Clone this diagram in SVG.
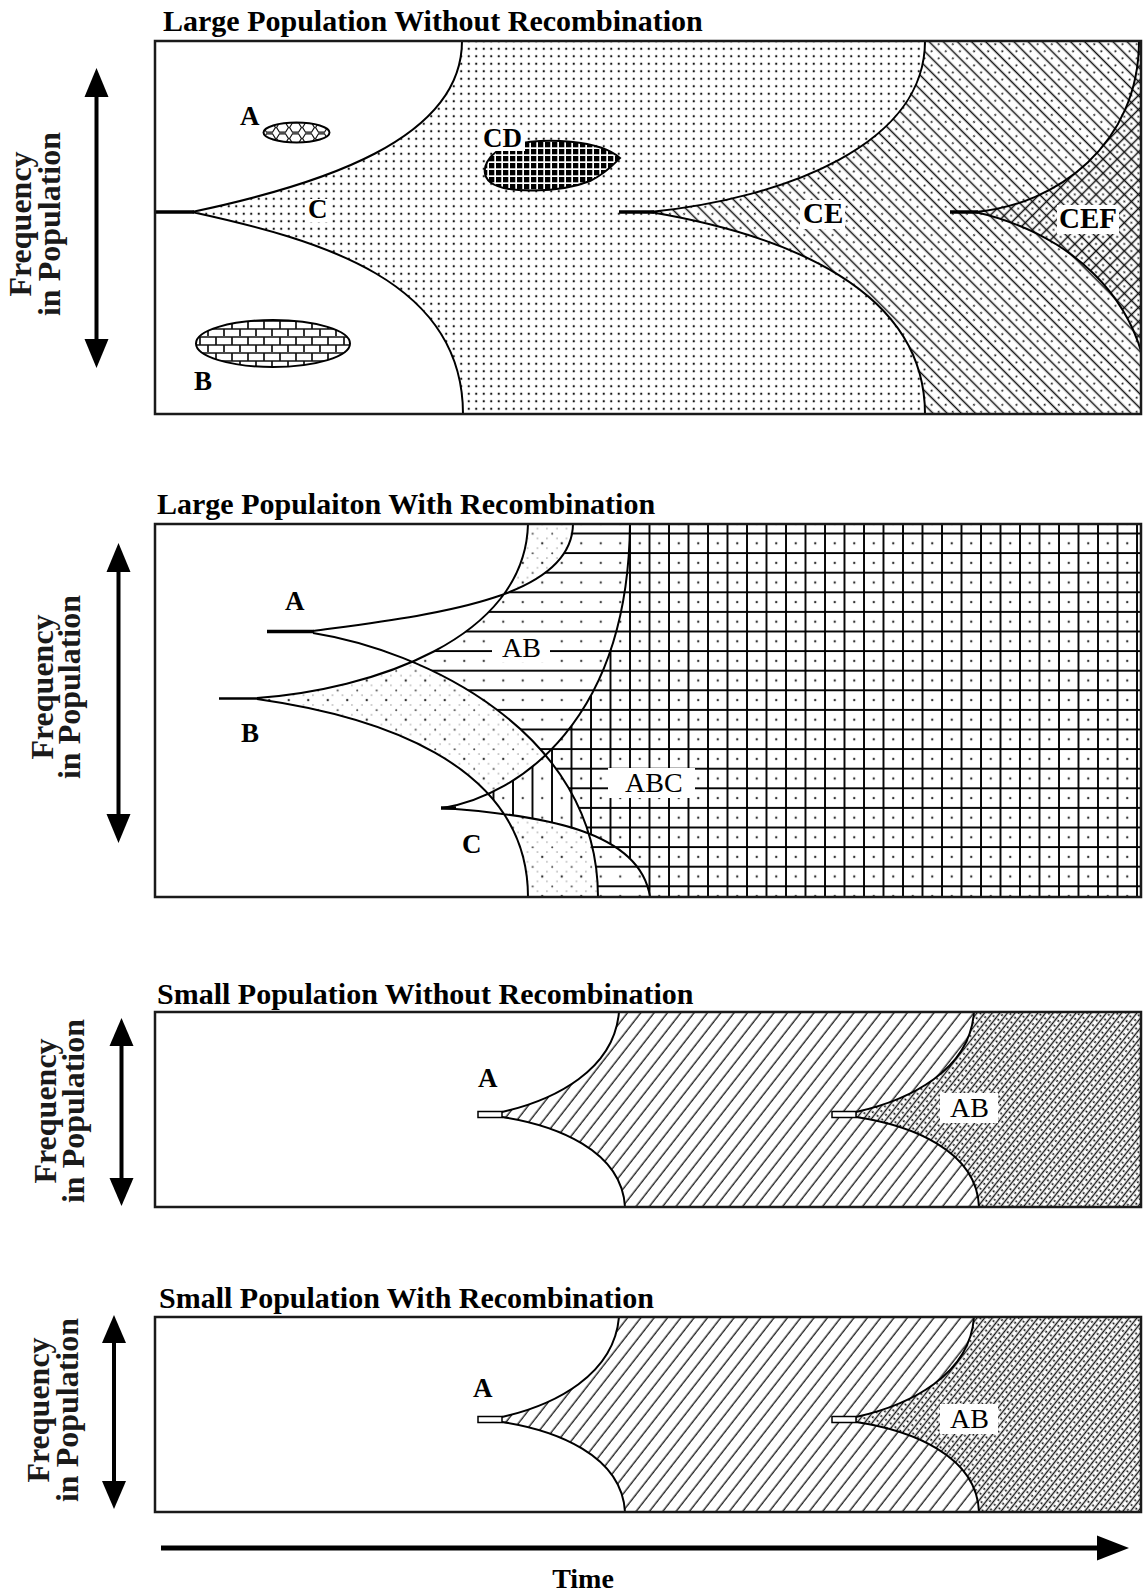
<svg xmlns="http://www.w3.org/2000/svg" width="1143" height="1595" viewBox="0 0 1143 1595">
<style>
text{font-family:"Liberation Serif","Times New Roman",serif;fill:#000}
.title{font-size:30px;font-weight:bold}
.ylab{font-size:32px;font-weight:bold;text-anchor:middle;fill:#1a1a1a}
.lb{font-size:27px;font-weight:bold}
.lb2{font-size:29px;font-weight:bold}
.lr{font-size:28px}
.box{fill:none;stroke:#1a1a1a;stroke-width:2.5}
.crv{fill:none;stroke:#000;stroke-width:2}
.stub{fill:none;stroke:#000;stroke-width:3.5}
.hstub{fill:#fff;stroke:#000;stroke-width:1.5}
.bg{fill:#fff}
.shaft{stroke:#000;stroke-width:4;fill:none}
.head{fill:#000}
.ell{stroke:#000;stroke-width:2}
</style>
<defs>
<pattern id="pDots" patternUnits="userSpaceOnUse" width="7.5" height="7.5"><circle cx="3.75" cy="3.75" r="1.15" fill="#151515"/></pattern>
<pattern id="pCE" patternUnits="userSpaceOnUse" width="10" height="10" patternTransform="rotate(45)"><rect width="10" height="10" fill="#fff"/><line x1="0" y1="2.5" x2="10" y2="2.5" stroke="#111" stroke-width="1.5"/><circle cx="5" cy="7.5" r="1.1" fill="#222"/></pattern>
<pattern id="pCEF" patternUnits="userSpaceOnUse" width="10" height="10" patternTransform="rotate(45)"><rect width="10" height="10" fill="#fff"/><line x1="0" y1="2.5" x2="10" y2="2.5" stroke="#111" stroke-width="1.5"/><line x1="2.5" y1="0" x2="2.5" y2="10" stroke="#111" stroke-width="1.5"/><circle cx="7.5" cy="7.5" r="1.1" fill="#222"/></pattern>
<pattern id="pHex" patternUnits="userSpaceOnUse" x="263" y="122" width="13" height="11"><rect width="13" height="11" fill="#fff"/><path d="M0.6,5.5 L3.5,0.8 L9.5,0.8 L12.4,5.5 L9.5,10.2 L3.5,10.2 Z" fill="none" stroke="#111" stroke-width="1.2"/></pattern>
<pattern id="pBrick" patternUnits="userSpaceOnUse" x="196" y="320" width="16" height="16"><rect width="16" height="16" fill="#fff"/><path d="M0,1 H16 M0,9 H16 M4,1 V9 M12,9 V16" stroke="#111" stroke-width="1.7" fill="none"/></pattern>
<pattern id="pGrid" patternUnits="userSpaceOnUse" x="482" y="142" width="7" height="7"><rect width="7" height="7" fill="#fff"/><rect width="5.3" height="5.3" fill="#000"/></pattern>
<pattern id="pB2" patternUnits="userSpaceOnUse" x="629" y="532.5" width="19.5" height="19.6"><rect width="19.5" height="19.6" fill="#fff"/><circle cx="10.75" cy="10.8" r="1.2" fill="#333"/><circle cx="1.2" cy="1.2" r="1" fill="#444"/><circle cx="6" cy="6" r="0.8" fill="#999"/><circle cx="15.5" cy="6" r="0.8" fill="#999"/><circle cx="6" cy="15.7" r="0.8" fill="#999"/><circle cx="15.5" cy="15.7" r="0.8" fill="#999"/></pattern>
<pattern id="pH2" patternUnits="userSpaceOnUse" x="629" y="532.5" width="19.5" height="19.6"><rect width="19.5" height="19.6" fill="#fff"/><line x1="0" y1="1" x2="19.5" y2="1" stroke="#000" stroke-width="1.9"/><circle cx="10.75" cy="10.8" r="1.2" fill="#444"/></pattern>
<pattern id="pV2" patternUnits="userSpaceOnUse" x="629" y="532.5" width="19.5" height="19.6"><rect width="19.5" height="19.6" fill="#fff"/><line x1="1" y1="0" x2="1" y2="19.6" stroke="#000" stroke-width="1.9"/><circle cx="10.75" cy="10.8" r="1.2" fill="#444"/></pattern>
<pattern id="pG2" patternUnits="userSpaceOnUse" x="629" y="532.5" width="19.5" height="19.6"><rect width="19.5" height="19.6" fill="#fff"/><line x1="0" y1="1" x2="19.5" y2="1" stroke="#000" stroke-width="1.9"/><line x1="1" y1="0" x2="1" y2="19.6" stroke="#000" stroke-width="1.9"/><circle cx="10.75" cy="10.8" r="1.2" fill="#333"/></pattern>
<pattern id="pA3" patternUnits="userSpaceOnUse" width="10.5" height="10.5" patternTransform="rotate(-52)"><rect width="10.5" height="10.5" fill="#fff"/><line x1="0" y1="5" x2="10.5" y2="5" stroke="#111" stroke-width="1.3"/></pattern>
<pattern id="pAB3" patternUnits="userSpaceOnUse" width="6" height="6" patternTransform="rotate(-52)"><rect width="6" height="6" fill="#fff"/><line x1="0" y1="1.5" x2="6" y2="1.5" stroke="#111" stroke-width="1.4"/><circle cx="3" cy="4.5" r="1.05" fill="#111"/></pattern>
<clipPath id="cBox1"><rect x="155" y="41" width="986" height="373"/></clipPath>
<clipPath id="cBox2"><rect x="155" y="524" width="986" height="373"/></clipPath>
<clipPath id="cBox3"><rect x="155" y="1012" width="986" height="195"/></clipPath>
<clipPath id="cBox4"><rect x="155" y="1317" width="986" height="195"/></clipPath>
<clipPath id="cA2"><path d="M313,631 C430,615 572,600 573,524 L1145,524 L1145,900 L598,900 L598,897 C598,730 420,650 313,633 Z"/></clipPath>
<clipPath id="cC2"><path d="M443,808 C520,795 628,720 630,524 L1145,524 L1145,900 L650,900 L650,897 C640,830 540,815 443,808 Z"/></clipPath>
</defs>

<g id="panel-large-without-recombination">
<text class="title" x="163" y="31">Large Population Without Recombination</text>
<g clip-path="url(#cBox1)">
<rect class="bg" x="155" y="41" width="986" height="373"/>
<path id="region-C" d="M192,212 C320,185 462,140 462,41 L1141,41 L1141,414 L463,414 C463,280 320,240 192,212 Z" fill="url(#pDots)"/>
<path id="region-CE" d="M650,212 C787,198 925,144 925,41 L1141,41 L1141,414 L925,414 C925,290 787,235 650,212 Z" fill="url(#pCE)"/>
<path id="region-CEF" d="M975,212 C1057,205 1139,144 1139,41 L1150,41 L1150,414 C1150,290 1057,230 975,212 Z" fill="url(#pCEF)"/>
<path class="crv" d="M192,212 C320,185 462,140 462,41 M192,212 C320,240 463,280 463,414 M650,212 C787,198 925,144 925,41 M650,212 C787,235 925,290 925,414 M975,212 C1057,205 1139,144 1139,41 M975,212 C1057,230 1150,290 1150,414"/>
<path class="stub" d="M155,212 H194 M619,212 H654 M950,212 H978"/>
<ellipse id="blob-A" class="ell" cx="296.5" cy="132.5" rx="33" ry="10" fill="url(#pHex)"/>
<ellipse id="blob-B" class="ell" cx="273" cy="343.5" rx="77" ry="23.5" fill="url(#pBrick)"/>
<path id="blob-CD" class="ell" d="M620,158 C600,140 545,137 512,145 C487,151 478,172 490,182 C505,194 560,193 590,181 C605,174 613,165 620,158 Z" fill="url(#pGrid)"/>
<rect class="bg" x="305" y="199" width="26" height="23"/>
<rect class="bg" x="481" y="126" width="44" height="25"/>
<rect class="bg" x="800" y="200" width="45" height="29"/>
<rect class="bg" x="1057" y="205" width="62" height="29"/>
<text class="lb" x="240" y="125">A</text>
<text class="lb" x="194" y="390">B</text>
<text class="lb" x="308" y="218">C</text>
<text class="lb" x="483" y="147">CD</text>
<text class="lb2" x="803" y="223">CE</text>
<text class="lb2" x="1059" y="228">CEF</text>
</g>
<rect class="box" x="155" y="41" width="986" height="373"/>
</g>

<g id="panel-large-with-recombination">
<text class="title" x="157" y="514">Large Populaiton With Recombination</text>
<g clip-path="url(#cBox2)">
<rect class="bg" x="155" y="524" width="986" height="373"/>
<path id="region-B" d="M257,698 C370,690 525,640 528,524 L1145,524 L1145,900 L528,900 L528,897 C528,760 370,715 257,699 Z" fill="url(#pB2)"/>
<g id="region-AB" clip-path="url(#cA2)"><path d="M257,698 C370,690 525,640 528,524 L1145,524 L1145,900 L528,900 L528,897 C528,760 370,715 257,699 Z" fill="url(#pH2)"/></g>
<g id="region-BC" clip-path="url(#cC2)"><path d="M257,698 C370,690 525,640 528,524 L1145,524 L1145,900 L528,900 L528,897 C528,760 370,715 257,699 Z" fill="url(#pV2)"/></g>
<g id="region-ABC" clip-path="url(#cC2)"><g clip-path="url(#cA2)"><path d="M257,698 C370,690 525,640 528,524 L1145,524 L1145,900 L528,900 L528,897 C528,760 370,715 257,699 Z" fill="url(#pG2)"/></g></g>
<path class="crv" d="M313,631 C430,615 572,600 573,524 M313,633 C420,650 598,730 598,897 M257,698 C370,690 525,640 528,524 M257,699 C370,715 528,760 528,897 M443,808 C520,795 628,720 630,524 M443,808 C540,815 640,830 650,897"/>
<path class="stub" d="M267,631.5 H314" stroke-width="4"/>
<path class="stub" d="M219,698.5 H258" style="stroke-width:2.5"/>
<path class="stub" d="M441,808 H456"/>
<rect class="bg" x="492" y="633" width="58" height="29"/>
<rect class="bg" x="608" y="768" width="87" height="30"/>
<text class="lb" x="285" y="610">A</text>
<text class="lb" x="241" y="742">B</text>
<text class="lb" x="462" y="853">C</text>
<text class="lr" x="502" y="657">AB</text>
<text class="lr" x="625" y="792">ABC</text>
</g>
<rect class="box" x="155" y="524" width="986" height="373"/>
</g>

<g id="panel-small-without-recombination">
<text class="title" x="157" y="1004">Small Population Without Recombination</text>
<g clip-path="url(#cBox3)">
<rect class="bg" x="155" y="1012" width="986" height="195"/>
<path id="region-A3" d="M502,1112 C555,1100 614,1070 619,1012 L1141,1012 L1141,1207 L625,1207 C622,1150 555,1125 502,1117 Z" fill="url(#pA3)"/>
<path id="region-AB3" d="M856,1112 C910,1100 970,1070 974,1012 L1141,1012 L1141,1207 L979,1207 C977,1150 910,1125 856,1117 Z" fill="url(#pAB3)"/>
<path class="crv" d="M502,1112 C555,1100 614,1070 619,1012 M502,1117 C555,1125 622,1150 625,1207 M856,1112 C910,1100 970,1070 974,1012 M856,1117 C910,1125 977,1150 979,1207"/>
<rect class="hstub" x="478" y="1111.5" width="24" height="6"/>
<rect class="hstub" x="832" y="1111.5" width="24" height="6"/>
<rect class="bg" x="940" y="1093" width="58" height="30"/>
<text class="lb" x="478" y="1087">A</text>
<text class="lr" x="950" y="1117">AB</text>
</g>
<rect class="box" x="155" y="1012" width="986" height="195"/>
</g>

<g id="panel-small-with-recombination">
<text class="title" x="159" y="1308">Small Population With Recombination</text>
<g clip-path="url(#cBox4)">
<rect class="bg" x="155" y="1317" width="986" height="195"/>
<g transform="translate(0,305)">
<path id="region-A4" d="M502,1112 C555,1100 614,1070 619,1012 L1141,1012 L1141,1207 L625,1207 C622,1150 555,1125 502,1117 Z" fill="url(#pA3)"/>
<path id="region-AB4" d="M856,1112 C910,1100 970,1070 974,1012 L1141,1012 L1141,1207 L979,1207 C977,1150 910,1125 856,1117 Z" fill="url(#pAB3)"/>
<path class="crv" d="M502,1112 C555,1100 614,1070 619,1012 M502,1117 C555,1125 622,1150 625,1207 M856,1112 C910,1100 970,1070 974,1012 M856,1117 C910,1125 977,1150 979,1207"/>
<rect class="hstub" x="478" y="1111.5" width="24" height="6"/>
<rect class="hstub" x="832" y="1111.5" width="24" height="6"/>
</g>
<rect class="bg" x="940" y="1404" width="58" height="30"/>
<text class="lb" x="473" y="1397">A</text>
<text class="lr" x="950" y="1428">AB</text>
</g>
<rect class="box" x="155" y="1317" width="986" height="195"/>
</g>

<g id="axes">
<g id="freq-axis-1">
<line class="shaft" x1="96.5" y1="94" x2="96.5" y2="342"/>
<polygon class="head" points="96.5,68 84.5,97 108.5,97"/>
<polygon class="head" points="96.5,368 84.5,339 108.5,339"/>
<g transform="translate(0,224) rotate(-90)"><text class="ylab" x="0" y="31">Frequency</text><text class="ylab" x="0" y="60">in Population</text></g>
</g>
<g id="freq-axis-2">
<line class="shaft" x1="118.5" y1="569" x2="118.5" y2="817"/>
<polygon class="head" points="118.5,543 106.5,572 130.5,572"/>
<polygon class="head" points="118.5,843 106.5,814 130.5,814"/>
<g transform="translate(0,687) rotate(-90)"><text class="ylab" x="0" y="53">Frequency</text><text class="ylab" x="0" y="80">in Population</text></g>
</g>
<g id="freq-axis-3">
<line class="shaft" x1="121.5" y1="1043" x2="121.5" y2="1181"/>
<polygon class="head" points="121.5,1018 109.5,1046 133.5,1046"/>
<polygon class="head" points="121.5,1206 109.5,1178 133.5,1178"/>
<g transform="translate(0,1111) rotate(-90)"><text class="ylab" x="0" y="56">Frequency</text><text class="ylab" x="0" y="84">in Population</text></g>
</g>
<g id="freq-axis-4">
<line class="shaft" x1="114" y1="1340" x2="114" y2="1484"/>
<polygon class="head" points="114,1315 102,1343 126,1343"/>
<polygon class="head" points="114,1509 102,1481 126,1481"/>
<g transform="translate(0,1410) rotate(-90)"><text class="ylab" x="0" y="49">Frequency</text><text class="ylab" x="0" y="78">in Population</text></g>
</g>
<g id="time-axis">
<line x1="161" y1="1548" x2="1100" y2="1548" stroke="#000" stroke-width="5"/>
<polygon class="head" points="1097,1535.5 1129,1548 1097,1560.5"/>
<text x="583" y="1588" text-anchor="middle" style="font-size:28px;font-weight:bold">Time</text>
</g>
</g>
</svg>
